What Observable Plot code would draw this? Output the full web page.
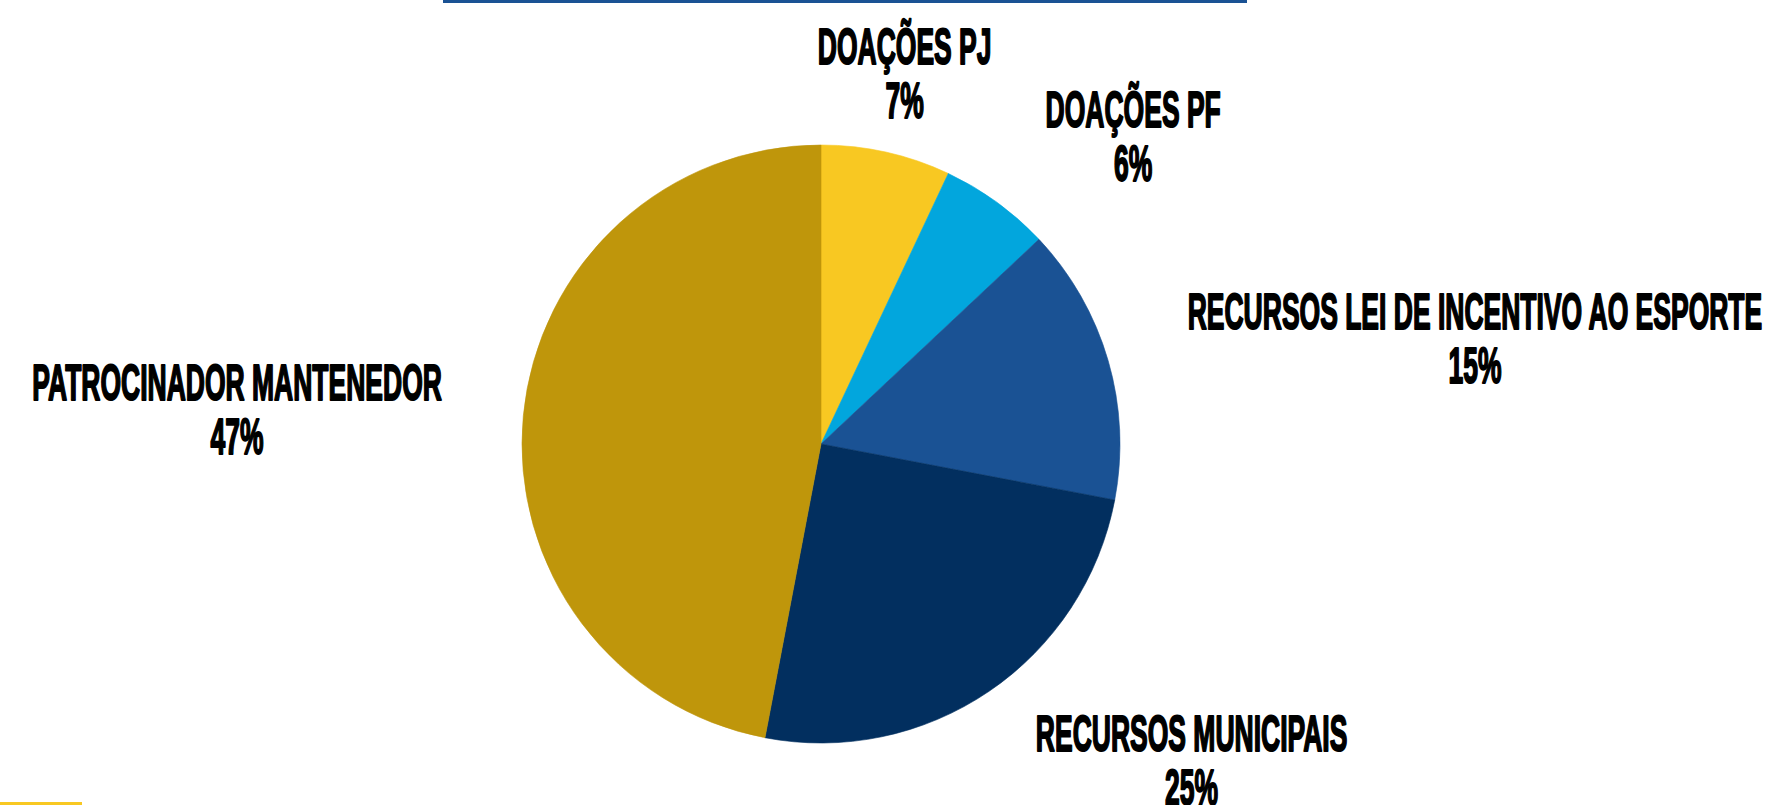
<!DOCTYPE html>
<html>
<head>
<meta charset="utf-8">
<script src="https://cdn.jsdelivr.net/npm/d3@7"></script>
<script src="https://cdn.jsdelivr.net/npm/@observablehq/plot@0.6"></script>
<style>
  html, body { margin: 0; padding: 0; background: #fff; }
  #wrap { position: relative; width: 1771px; height: 805px; overflow: hidden; }
  #wrap svg { display: block; }
  .deco { position: absolute; }
</style>
</head>
<body>
<div id="wrap">
  <div class="deco" style="left:443px;top:0;width:804px;height:3px;background:#1a5294"></div>
  <div class="deco" style="left:0;top:802px;width:82px;height:3px;background:#f8c822"></div>
</div>
<script>
// ---- data ----
const categories = [
  "DOAÇÕES PJ",
  "DOAÇÕES PF",
  "RECURSOS LEI DE INCENTIVO AO ESPORTE",
  "RECURSOS MUNICIPAIS",
  "PATROCINADOR MANTENEDOR"
];
const percents = [7, 6, 15, 25, 47];
const colors = ["#f8c822", "#02a6dd", "#1a5294", "#022f5f", "#bf960b"];

// ---- layout ----
const W = 1771, H = 805;
const CX = 821, CY = 444, R = 299;      // pie centre / radius in px
const labelDist = 1.275;                // label anchor distance (in radii)
const squeeze = 0.53;                   // horizontal condensing of label font

const rows = categories.map((c, i) => ({category: c, value: percents[i]}));
const arcs = d3.pie().sort(null).value(d => d.value)(rows);
arcs.forEach(a => { a.data.mid = (a.startAngle + a.endAngle) / 2; });
const colorOf = d3.scaleOrdinal(categories, colors);

function pieMark(index, scales) {
  const x = scales.x, y = scales.y;
  const cx = x(0), cy = y(0), r = x(1) - x(0);
  const g = d3.create("svg:g").attr("transform", `translate(${cx},${cy})`);
  const arcGen = d3.arc().innerRadius(0).outerRadius(r);
  g.selectAll("path").data(arcs).join("path")
    .attr("d", arcGen)
    .attr("fill", d => colorOf(d.data.category))
    .attr("stroke", d => colorOf(d.data.category))
    .attr("stroke-width", 0.6);
  return g.node();
}

const plot = Plot.plot({
  width: W,
  height: H,
  margin: 0,
  x: {domain: [-CX / R, (W - CX) / R], range: [0, W], axis: null},
  y: {domain: [-(H - CY) / R, CY / R], range: [H, 0], axis: null},
  style: {background: "transparent"},
  marks: [
    pieMark,
    Plot.text(rows, {
      x: d => labelDist * Math.sin(d.mid),
      y: d => labelDist * Math.cos(d.mid),
      text: d => `${d.category}\n${d.value}%`,
      fontFamily: "Liberation Sans, Arial, sans-serif",
      fontWeight: "bold",
      fontSize: 50,
      lineHeight: 1.08,
      textAnchor: "middle",
      fill: "#000",
      stroke: "#000",
      strokeWidth: 2,
      dy: 1
    })
  ]
});

document.getElementById("wrap").appendChild(plot);

// condense label glyphs and push each label block outward from the pie
const texts = plot.querySelectorAll('g[aria-label="text"] text');
texts.forEach((el, i) => {
  const s = Math.sin(rows[i].mid);
  const side = s > 0.5 ? 1 : s < -0.5 ? -1 : 0;
  const w = el.getBBox().width * squeeze;
  const t = el.getAttribute("transform") || "";
  el.setAttribute("transform", `${t} translate(${side * w / 2},0) scale(${squeeze},1)`);
});
</script>
</body>
</html>
